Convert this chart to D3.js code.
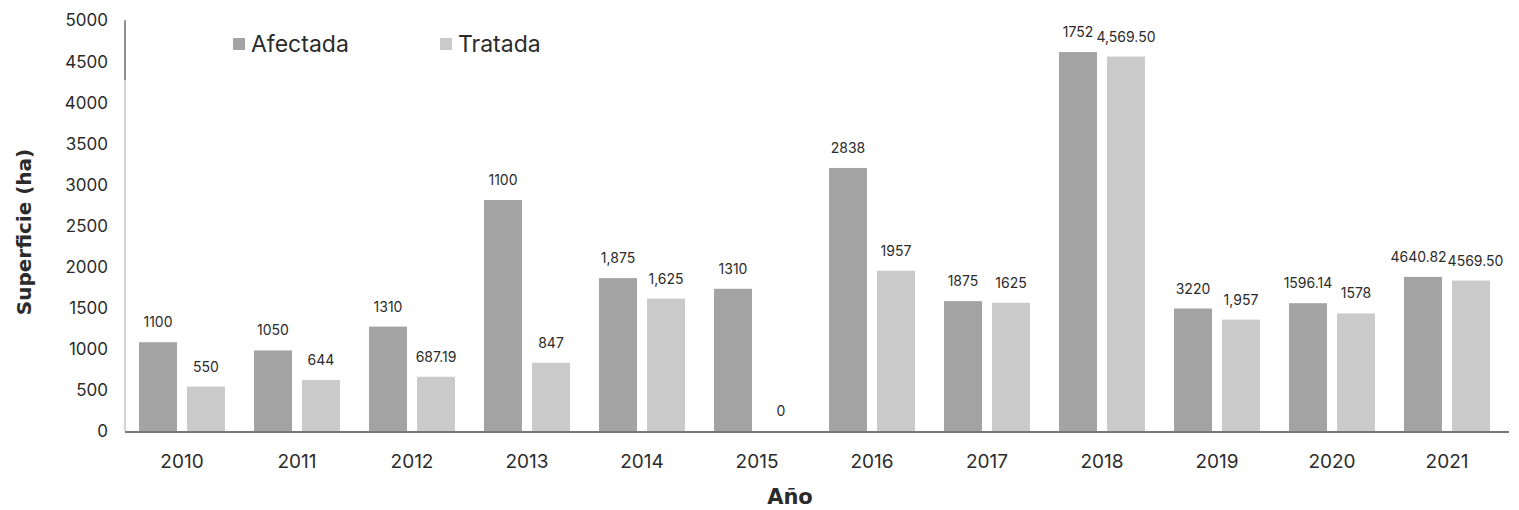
<!DOCTYPE html>
<html><head><meta charset="utf-8">
<script src="https://cdn.jsdelivr.net/npm/d3@7"></script>
<style>
html,body{margin:0;padding:0;background:#fff;}
svg{display:block;}
text{font-family:Inter,"Open Sans",sans-serif;fill:#2b2b2b;}
</style></head>
<body>
<svg id="chart" width="1519" height="510"></svg>
<script>
const years = ["2010","2011","2012","2013","2014","2015","2016","2017","2018","2019","2020","2021"];
const series = ["Afectada","Tratada"];
const afectada = [1080, 980, 1270, 2810, 1860, 1730, 3200, 1580, 4610, 1490, 1555, 1875];
const tratada  = [540, 620, 660, 830, 1610, 0, 1950, 1560, 4555, 1355, 1430, 1830];
const afectadaLabels = ["1100","1050","1310","1100","1,875","1310","2838","1875","1752","3220","1596.14","4640.82"];
const tratadaLabels  = ["550","644","687.19","847","1,625","0","1957","1625","4,569.50","1,957","1578","4569.50"];
const yTicks = [0,500,1000,1500,2000,2500,3000,3500,4000,4500,5000];
const colors = {Afectada:"#a3a3a3", Tratada:"#cacaca"};

const svg = d3.select("#chart");
const x0 = d3.scaleBand().domain(years).range([124.5, 1504.5]).padding(0);
const x1 = d3.scaleBand().domain(series).range([14.5, 100.5]).paddingInner(0.2083);
const y = d3.scaleLinear().domain([0, 5000]).range([431, 20]);

// y axis line
svg.append("line").attr("x1",125).attr("x2",125).attr("y1",y(0)).attr("y2",22)
  .attr("stroke","#c4c4c4").attr("stroke-width",1.5);
svg.append("line").attr("x1",125).attr("x2",125).attr("y1",80).attr("y2",20)
  .attr("stroke","#777").attr("stroke-width",1.5);

// y tick labels
const yAxis = d3.axisLeft(y).tickValues(yTicks).tickSize(0).tickPadding(0).tickFormat(d3.format("d"));
const gy = svg.append("g").attr("transform","translate(108,0)").call(yAxis);
gy.select(".domain").remove();
gy.selectAll("text").style("font-size","17px").style("font-family","Inter,sans-serif").attr("fill","#333").attr("dy","0.35em");

// baseline
svg.append("line").attr("x1",125).attr("x2",1509).attr("y1",y(0)+1).attr("y2",y(0)+1)
  .attr("stroke","#4a4a4a").attr("stroke-width",1.6);

const data = years.map((yr,i)=>({year:yr, vals:[
  {s:"Afectada", v:afectada[i], lab:afectadaLabels[i]},
  {s:"Tratada", v:tratada[i], lab:tratadaLabels[i]}]}));

const groups = svg.append("g").selectAll("g").data(data).join("g")
  .attr("transform", d=>`translate(${x0(d.year)},0)`);

groups.selectAll("rect").data(d=>d.vals).join("rect")
  .attr("x", d=>x1(d.s)).attr("width", x1.bandwidth())
  .attr("y", d=>y(d.v)).attr("height", d=>y(0)-y(d.v))
  .attr("fill", d=>colors[d.s]);

groups.each(function(){
  const g = d3.select(this);
  const labs = g.selectAll("text.lab").data(d=>d.vals).join("text").attr("class","lab")
    .attr("x", d=>x1(d.s)+x1.bandwidth()/2)
    .attr("y", d=>y(d.v)-15)
    .attr("text-anchor","middle")
    .style("font-size","14px")
    .text(d=>d.lab);
  const nodes = labs.nodes();
  const a = nodes[0].getBBox(), b = nodes[1].getBBox();
  const vOverlap = !(a.y + a.height < b.y || b.y + b.height < a.y);
  const ov = a.x + a.width - b.x;
  if (vOverlap && ov > -1) {
    const s = (ov + 1) / 2;
    d3.select(nodes[0]).attr("x", +nodes[0].getAttribute("x") - s);
    d3.select(nodes[1]).attr("x", +nodes[1].getAttribute("x") + s);
  }
});

// x axis labels
const xAxis = d3.axisBottom(x0).tickSize(0).tickPadding(0);
const gx = svg.append("g").attr("transform",`translate(0,${y(0)})`).call(xAxis);
gx.select(".domain").remove();
gx.selectAll("text").attr("y",30).attr("dy","0.35em").style("font-size","19px").style("font-family","Inter,sans-serif").attr("fill","#2b2b2b");

// axis titles
svg.append("text").attr("x",790).attr("y",504).attr("text-anchor","middle")
  .style("font-family","'DejaVu Sans',sans-serif")
  .style("font-size","21px").style("font-weight","700").text("Año");
svg.append("text").attr("transform","translate(31,232) rotate(-90)").attr("text-anchor","middle")
  .style("font-family","'DejaVu Sans',sans-serif")
  .style("font-size","20px").style("font-weight","700").text("Superficie (ha)");

// legend
const legendX = [233, 440];
const lg = svg.append("g").selectAll("g").data(series).join("g")
  .attr("transform",(d,i)=>`translate(${legendX[i]},44)`);
lg.append("rect").attr("x",0).attr("y",-6).attr("width",12).attr("height",12).attr("fill",d=>colors[d]);
lg.append("text").attr("x",18).attr("y",0).attr("dy","0.35em").style("font-size","23px").text(d=>d);
</script>
</body></html>
